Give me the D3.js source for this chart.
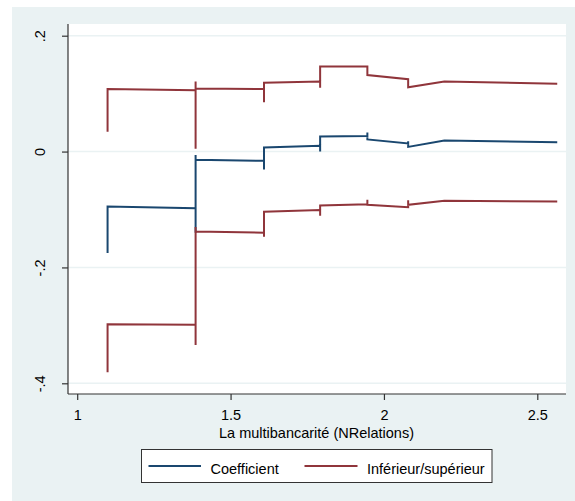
<!DOCTYPE html>
<html>
<head>
<meta charset="utf-8">
<script src="https://cdn.jsdelivr.net/npm/d3@7"></script>
<style>
  html, body { margin: 0; padding: 0; background: #ffffff; }
  svg { display: block; font-family: "Liberation Sans", Arial, sans-serif; }
</style>
</head>
<body>
<div id="chart"></div>
<script>
// x = ln(NRelations), points listed in drawing order (vertical jumps share x)
const coefX = [1.099, 1.099, 1.386, 1.386, 1.386, 1.386, 1.609, 1.609, 1.609, 1.792, 1.792, 1.792, 1.946, 1.946, 1.946, 2.079, 2.079, 2.079, 2.197, 2.565];
const coefY = [-0.175, -0.095, -0.098, -0.140, -0.006, -0.014, -0.016, -0.031, 0.007, 0.010, 0.000, 0.026, 0.027, 0.033, 0.021, 0.014, 0.018, 0.008, 0.019, 0.016];

const upperX = [1.099, 1.099, 1.386, 1.386, 1.386, 1.386, 1.609, 1.609, 1.609, 1.792, 1.792, 1.792, 1.946, 1.946, 2.079, 2.079, 2.197, 2.565];
const upperY = [0.034, 0.108, 0.106, 0.005, 0.121, 0.109, 0.108, 0.085, 0.119, 0.121, 0.110, 0.147, 0.147, 0.132, 0.125, 0.111, 0.121, 0.117];

const lowerX = [1.099, 1.099, 1.386, 1.386, 1.386, 1.386, 1.609, 1.609, 1.609, 1.792, 1.792, 1.792, 1.946, 1.946, 1.946, 2.079, 2.079, 2.079, 2.197, 2.565];
const lowerY = [-0.381, -0.298, -0.299, -0.334, -0.130, -0.138, -0.140, -0.147, -0.104, -0.101, -0.111, -0.093, -0.091, -0.083, -0.092, -0.096, -0.084, -0.092, -0.085, -0.086];

const xTicks = [1, 1.5, 2, 2.5];
const xTickLabels = ["1", "1.5", "2", "2.5"];
const yTicks = [-0.4, -0.2, 0, 0.2];
const yTickLabels = ["-.4", "-.2", "0", ".2"];

const xTitle = "La multibancarité (NRelations)";
const legendLabels = ["Coefficient", "Inférieur/supérieur"];

const W = 575, H = 501;
const BG = "#eaf2f3";
const BLUE = "#1a476f";
const RED = "#90353b";
const AXIS = "#333";

const plot = { left: 68, right: 566, top: 24, bottom: 394 };

const svg = d3.select("#chart").append("svg")
  .attr("width", W)
  .attr("height", H);

// outer graph region
svg.append("rect")
  .attr("x", 12).attr("y", 7)
  .attr("width", W - 12).attr("height", H - 7)
  .attr("fill", BG);

// plot region
svg.append("rect")
  .attr("x", plot.left).attr("y", plot.top)
  .attr("width", plot.right - plot.left).attr("height", plot.bottom - plot.top)
  .attr("fill", "#ffffff");

const x = d3.scaleLinear().domain([1, 2.5]).range([77.2, 537.3]);
const y = d3.scaleLinear().domain([-0.4, 0.2]).range([383.3, 35.7]);

// grid lines
svg.append("g")
  .selectAll("line")
  .data(yTicks)
  .enter().append("line")
  .attr("x1", plot.left).attr("x2", plot.right)
  .attr("y1", d => y(d)).attr("y2", d => y(d))
  .attr("stroke", BG)
  .attr("stroke-width", 1.5);

// y axis
const yAxis = d3.axisLeft(y)
  .tickValues(yTicks)
  .tickSize(6)
  .tickFormat((d, i) => yTickLabels[i]);

svg.append("g")
  .attr("transform", `translate(${plot.left},0)`)
  .call(yAxis)
  .call(g => g.select(".domain").remove())
  .call(g => g.selectAll(".tick line").attr("stroke", AXIS).attr("stroke-width", 1.2))
  .call(g => g.selectAll(".tick text")
    .attr("transform", "rotate(-90)")
    .attr("x", 0)
    .attr("y", -23)
    .attr("dy", 0)
    .attr("text-anchor", "middle")
    .attr("fill", "#000")
    .style("font-size", "14.5px")
    .style("font-family", '"Liberation Sans", Arial, sans-serif'));

svg.append("line")
  .attr("x1", plot.left).attr("x2", plot.left)
  .attr("y1", plot.top).attr("y2", plot.bottom)
  .attr("stroke", AXIS).attr("stroke-width", 1.2);

// x axis
const xAxis = d3.axisBottom(x)
  .tickValues(xTicks)
  .tickSize(6)
  .tickFormat((d, i) => xTickLabels[i]);

svg.append("g")
  .attr("transform", `translate(0,${plot.bottom})`)
  .call(xAxis)
  .call(g => g.select(".domain").remove())
  .call(g => g.selectAll(".tick line").attr("stroke", AXIS).attr("stroke-width", 1.2))
  .call(g => g.selectAll(".tick text")
    .attr("y", 25.5)
    .attr("dy", 0)
    .attr("fill", "#000")
    .style("font-size", "14.5px")
    .style("font-family", '"Liberation Sans", Arial, sans-serif'));

svg.append("line")
  .attr("x1", plot.left).attr("x2", plot.right)
  .attr("y1", plot.bottom).attr("y2", plot.bottom)
  .attr("stroke", AXIS).attr("stroke-width", 1.2);

svg.append("text")
  .attr("x", 316.5)
  .attr("y", 437.5)
  .attr("text-anchor", "middle")
  .attr("font-size", "14.5px")
  .attr("fill", "#000")
  .text(xTitle);

// series
const line = d3.line()
  .x(d => x(d[0]))
  .y(d => y(d[1]));

const series = [
  { xs: coefX, ys: coefY, color: BLUE },
  { xs: upperX, ys: upperY, color: RED },
  { xs: lowerX, ys: lowerY, color: RED }
];

series.forEach(s => {
  svg.append("path")
    .datum(s.xs.map((v, i) => [v, s.ys[i]]))
    .attr("fill", "none")
    .attr("stroke", s.color)
    .attr("stroke-width", 2)
    .attr("stroke-linejoin", "miter")
    .attr("d", line);
});

// legend
const lg = svg.append("g");
lg.append("rect")
  .attr("x", 141.5).attr("y", 449.5)
  .attr("width", 350.5).attr("height", 33)
  .attr("fill", "#fff")
  .attr("stroke", "#333")
  .attr("stroke-width", 1);

const legendItems = [
  { label: legendLabels[0], color: BLUE, x0: 148.5, x1: 201, tx: 210.5 },
  { label: legendLabels[1], color: RED, x0: 304.5, x1: 357.5, tx: 367 }
];

legendItems.forEach(it => {
  lg.append("line")
    .attr("x1", it.x0).attr("x2", it.x1)
    .attr("y1", 466).attr("y2", 466)
    .attr("stroke", it.color)
    .attr("stroke-width", 2);
  lg.append("text")
    .attr("x", it.tx)
    .attr("y", 473.5)
    .attr("font-size", "14.5px")
    .attr("fill", "#000")
    .text(it.label);
});
</script>
</body>
</html>
